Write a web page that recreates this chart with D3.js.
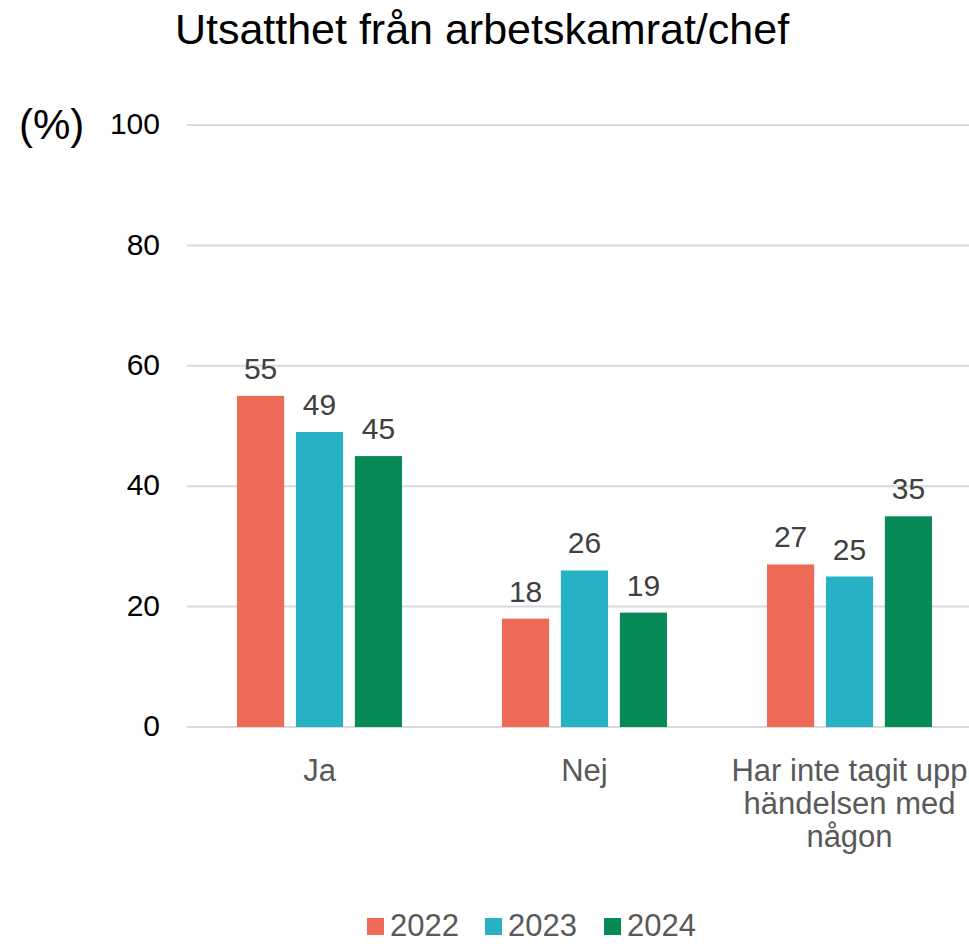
<!DOCTYPE html>
<html>
<head>
<meta charset="utf-8">
<script src="https://cdn.jsdelivr.net/npm/d3@7"></script>
<style>
  body { margin: 0; background: #fff; }
  text { font-family: "Liberation Sans", Arial, sans-serif; }
</style>
</head>
<body>
<div id="chart"></div>
<script>
const categories = ['Ja', 'Nej', 'Har inte tagit upp|händelsen med|någon'];
const years = ['2022', '2023', '2024'];
const values2022 = [55, 18, 27];
const values2023 = [49, 26, 25];
const values2024 = [45, 19, 35];
const yTicks = [0, 20, 40, 60, 80, 100];
const colors = ['#ED6A56', '#27B1C5', '#078A55'];

const series = [values2022, values2023, values2024];

const width = 969, height = 944;
const svg = d3.select('#chart').append('svg')
  .attr('width', width)
  .attr('height', height);

const x0 = d3.scaleBand().domain(categories).range([187, 982]);
const x1 = d3.scaleBand().domain(years).range([50, 215]).paddingInner(0.2);
const y = d3.scaleLinear().domain([0, 100]).range([727, 125]);

// title
svg.append('text')
  .attr('x', 482).attr('y', 44)
  .attr('text-anchor', 'middle')
  .attr('font-size', 43)
  .attr('fill', '#000')
  .text('Utsatthet från arbetskamrat/chef');

svg.append('text')
  .attr('x', 19).attr('y', 124)
  .attr('dy', '0.35em')
  .attr('font-size', 42)
  .attr('fill', '#000')
  .text('(%)');

// gridlines
svg.append('g').selectAll('line')
  .data(yTicks)
  .join('line')
  .attr('x1', 187).attr('x2', width)
  .attr('y1', d => y(d)).attr('y2', d => y(d))
  .attr('stroke', '#D9D9D9')
  .attr('stroke-width', 2);

// y axis labels
const yAxis = svg.append('g')
  .attr('transform', 'translate(160,-1)')
  .call(d3.axisLeft(y).tickValues(yTicks).tickSize(0).tickPadding(0));
yAxis.select('.domain').remove();
yAxis.selectAll('text')
  .attr('font-size', 30)
  .attr('font-family', '"Liberation Sans", Arial, sans-serif')
  .attr('fill', '#000');

// bars
const groups = svg.append('g').selectAll('g')
  .data(categories)
  .join('g')
  .attr('transform', d => `translate(${x0(d)},0)`);

groups.selectAll('rect')
  .data((d, i) => years.map((yr, j) => ({ yr, v: series[j][i], c: colors[j] })))
  .join('rect')
  .attr('x', d => x1(d.yr))
  .attr('width', x1.bandwidth())
  .attr('y', d => y(d.v))
  .attr('height', d => y(0) - y(d.v))
  .attr('fill', d => d.c);

groups.selectAll('text.val')
  .data((d, i) => years.map((yr, j) => ({ yr, v: series[j][i] })))
  .join('text')
  .attr('class', 'val')
  .attr('x', d => x1(d.yr) + x1.bandwidth() / 2)
  .attr('y', d => y(d.v) - 17)
  .attr('text-anchor', 'middle')
  .attr('font-size', 30)
  .attr('fill', '#404040')
  .text(d => d.v);

// category labels
const cat = svg.append('g').selectAll('text')
  .data(categories)
  .join('text')
  .attr('x', d => x0(d) + x0.bandwidth() / 2)
  .attr('y', 781)
  .attr('text-anchor', 'middle')
  .attr('font-size', 31)
  .attr('fill', '#595959');
cat.each(function(d) {
  const lines = d.split('|');
  const t = d3.select(this);
  lines.forEach((l, i) => {
    t.append('tspan')
      .attr('x', x0(d) + x0.bandwidth() / 2)
      .attr('dy', i === 0 ? 0 : 33)
      .text(l);
  });
});

// legend
const legendX = [367, 485, 604];
const leg = svg.append('g').selectAll('g')
  .data(years)
  .join('g')
  .attr('transform', (d, i) => `translate(${legendX[i]},0)`);
leg.append('rect')
  .attr('x', 0).attr('y', 918)
  .attr('width', 17).attr('height', 17)
  .attr('fill', (d, i) => colors[i]);
leg.append('text')
  .attr('x', 23).attr('y', 936)
  .attr('font-size', 31)
  .attr('fill', '#595959')
  .text(d => d);
</script>
</body>
</html>
